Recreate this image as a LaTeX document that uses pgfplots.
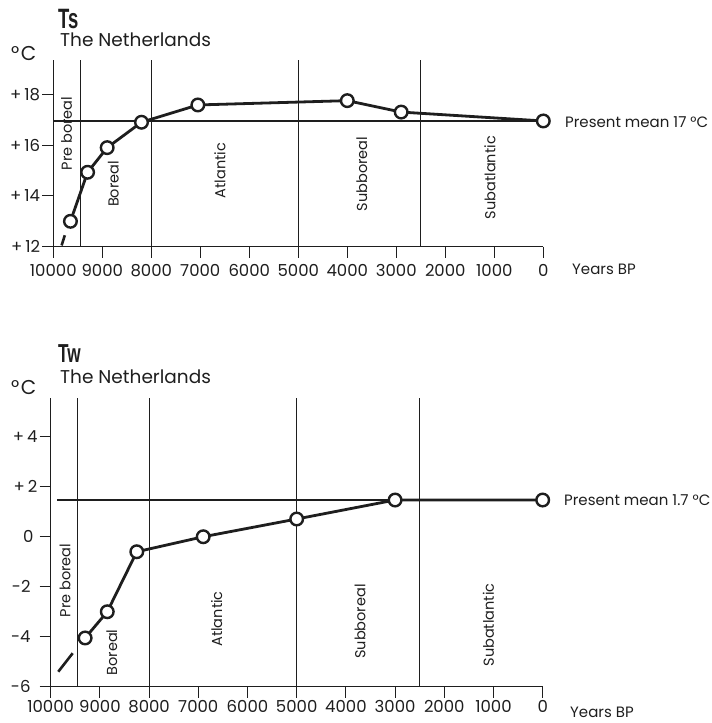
\documentclass[border=0pt]{standalone}
\usepackage{pgfplots}
\pgfplotsset{compat=1.18}
\usepackage{fontspec}
\setmainfont{Poppins}
\newfontfamily\condfont{Liberation Sans}
\usepackage{graphicx}
\definecolor{ink}{HTML}{1E1E1E}
\newcommand{\tfont}{\fontsize{15bp}{18bp}\selectfont}
\newcommand{\kfont}{\fontsize{16.5bp}{19bp}\selectfont}
\newcommand{\pfont}{\fontsize{14.5bp}{16bp}\selectfont}
\newcommand{\hfont}{\fontsize{18.5bp}{21bp}\selectfont}
\newcommand{\dC}{\fontsize{20bp}{22bp}\selectfont °\kern1.5bp C}
\newcommand{\pl}{+\kern3bp}
\tikzset{per/.style={rotate=90, font=\pfont, text=ink, inner sep=0}}
\pgfplotsset{
  chart/.style={
    scale only axis, anchor=south west, x dir=reverse, xmin=0, xmax=10000,
    axis x line*=bottom, axis y line*=left,
    axis line style={-, line width=1.1bp, ink},
    xtick={0,1000,...,10000},
    tick align=outside, major tick length=11bp,
    tick style={line width=1.1bp, ink},
    xtick pos=bottom, ytick pos=left,
    scaled x ticks=false,
    /pgf/number format/1000 sep={},
    /pgf/number format/assume math mode=true,
    tick label style={font=\kfont, text=ink},
    xticklabel style={inner sep=2bp},
    yticklabel style={inner sep=2bp},
    clip=false,
  },
  dataline/.style={ink, line width=2.8bp, mark=*, mark size=6.3bp,
    mark options={fill=white, draw=ink, line width=2.4bp}},
  thinline/.style={ink, line width=1.1bp, forget plot},
}
\begin{document}
\begin{tikzpicture}
\path[use as bounding box] (0bp,0bp) rectangle (712bp,-723bp);
% ---------------- Ts ----------------
\begin{axis}[chart,
  at={(53.3bp,-246.7bp)}, width=490bp, height=186.7bp,
  ymin=12, ymax=19.35,
  ytick={12,14,16,18}, yticklabels={\pl 12,\pl 14,\pl 16,\pl 18},
  xticklabel style={yshift=-4bp},
]
\addplot[thinline] coordinates {(9450,12) (9450,19.35)};
\addplot[thinline] coordinates {(8000,12) (8000,19.35)};
\addplot[thinline] coordinates {(5000,12) (5000,19.35)};
\addplot[thinline] coordinates {(2500,12) (2500,19.35)};
\addplot[thinline] coordinates {(10000,16.95) (0,16.95)};
\addplot[ink, line width=2.6bp] coordinates {(9830,12.05) (9765,12.45)};
\addplot[dataline] coordinates {
  (9650,13.0) (9300,14.93) (8900,15.9) (8200,16.9) (7050,17.58)
  (4000,17.75) (2900,17.3) (0,16.95)};
\node[per] at (axis cs:9727,16.46) {Pre boreal};
\node[per] at (axis cs:8776,14.47) {Boreal};
\node[per] at (axis cs:6598,15.0) {Atlantic};
\node[per] at (axis cs:3706,14.86) {Subboreal};
\node[per] at (axis cs:1088,14.72) {Subatlantic};
\end{axis}
\node[anchor=base west, inner sep=0, text=ink] at (58bp,-28bp) {\scalebox{0.66}[1]{\condfont\bfseries\fontsize{28bp}{30bp}\selectfont Ts}};
\node[anchor=base west, inner sep=0, text=ink] at (60bp,-46.7bp) {\hfont The Netherlands};
\node[anchor=base west, inner sep=0, text=ink] at (11bp,-60bp) {\dC};
\node[anchor=base west, inner sep=0, text=ink] at (565bp,-127bp) {\tfont Present mean 17 °C};
\node[anchor=base west, inner sep=0, text=ink] at (572bp,-274bp) {\tfont Years BP};
% ---------------- Tw ----------------
\begin{axis}[chart,
  at={(50.7bp,-686.7bp)}, width=492bp, height=288.4bp,
  ymin=-6, ymax=5.54,
  ytick={-6,-4,-2,0,2,4},
  yticklabels={-6\kern7bp,-4\kern7bp,-2\kern7bp,0\kern4bp,\pl 2,\pl 4},
]
\addplot[thinline] coordinates {(9450,-6) (9450,5.54)};
\addplot[thinline] coordinates {(8000,-6) (8000,5.54)};
\addplot[thinline] coordinates {(5000,-6) (5000,5.54)};
\addplot[thinline] coordinates {(2500,-6) (2500,5.54)};
\addplot[thinline] coordinates {(9870,1.47) (0,1.47)};
\addplot[ink, line width=2.6bp] coordinates {(9846,-5.4) (9553,-4.66)};
\addplot[dataline] coordinates {
  (9300,-4.05) (8850,-3.0) (8250,-0.6) (6900,0.0) (5000,0.71)
  (3000,1.47) (0,1.47)};
\node[per] at (axis cs:9709,-1.75) {Pre boreal};
\node[per] at (axis cs:8760,-4.63) {Boreal};
\node[per] at (axis cs:6626,-3.29) {Atlantic};
\node[per] at (axis cs:3714,-3.39) {Subboreal};
\node[per] at (axis cs:1104,-3.53) {Subatlantic};
\end{axis}
\node[anchor=base west, inner sep=0, text=ink] at (58bp,-362bp) {\scalebox{0.66}[1]{\condfont\bfseries\fontsize{26bp}{28bp}\selectfont Tw}};
\node[anchor=base west, inner sep=0, text=ink] at (60bp,-383.3bp) {\hfont The Netherlands};
\node[anchor=base west, inner sep=0, text=ink] at (11bp,-394bp) {\dC};
\node[anchor=base west, inner sep=0, text=ink] at (564bp,-505bp) {\tfont Present mean 1.7 °C};
\node[anchor=base west, inner sep=0, text=ink] at (570bp,-717bp) {\tfont Years BP};
\end{tikzpicture}
\end{document}
